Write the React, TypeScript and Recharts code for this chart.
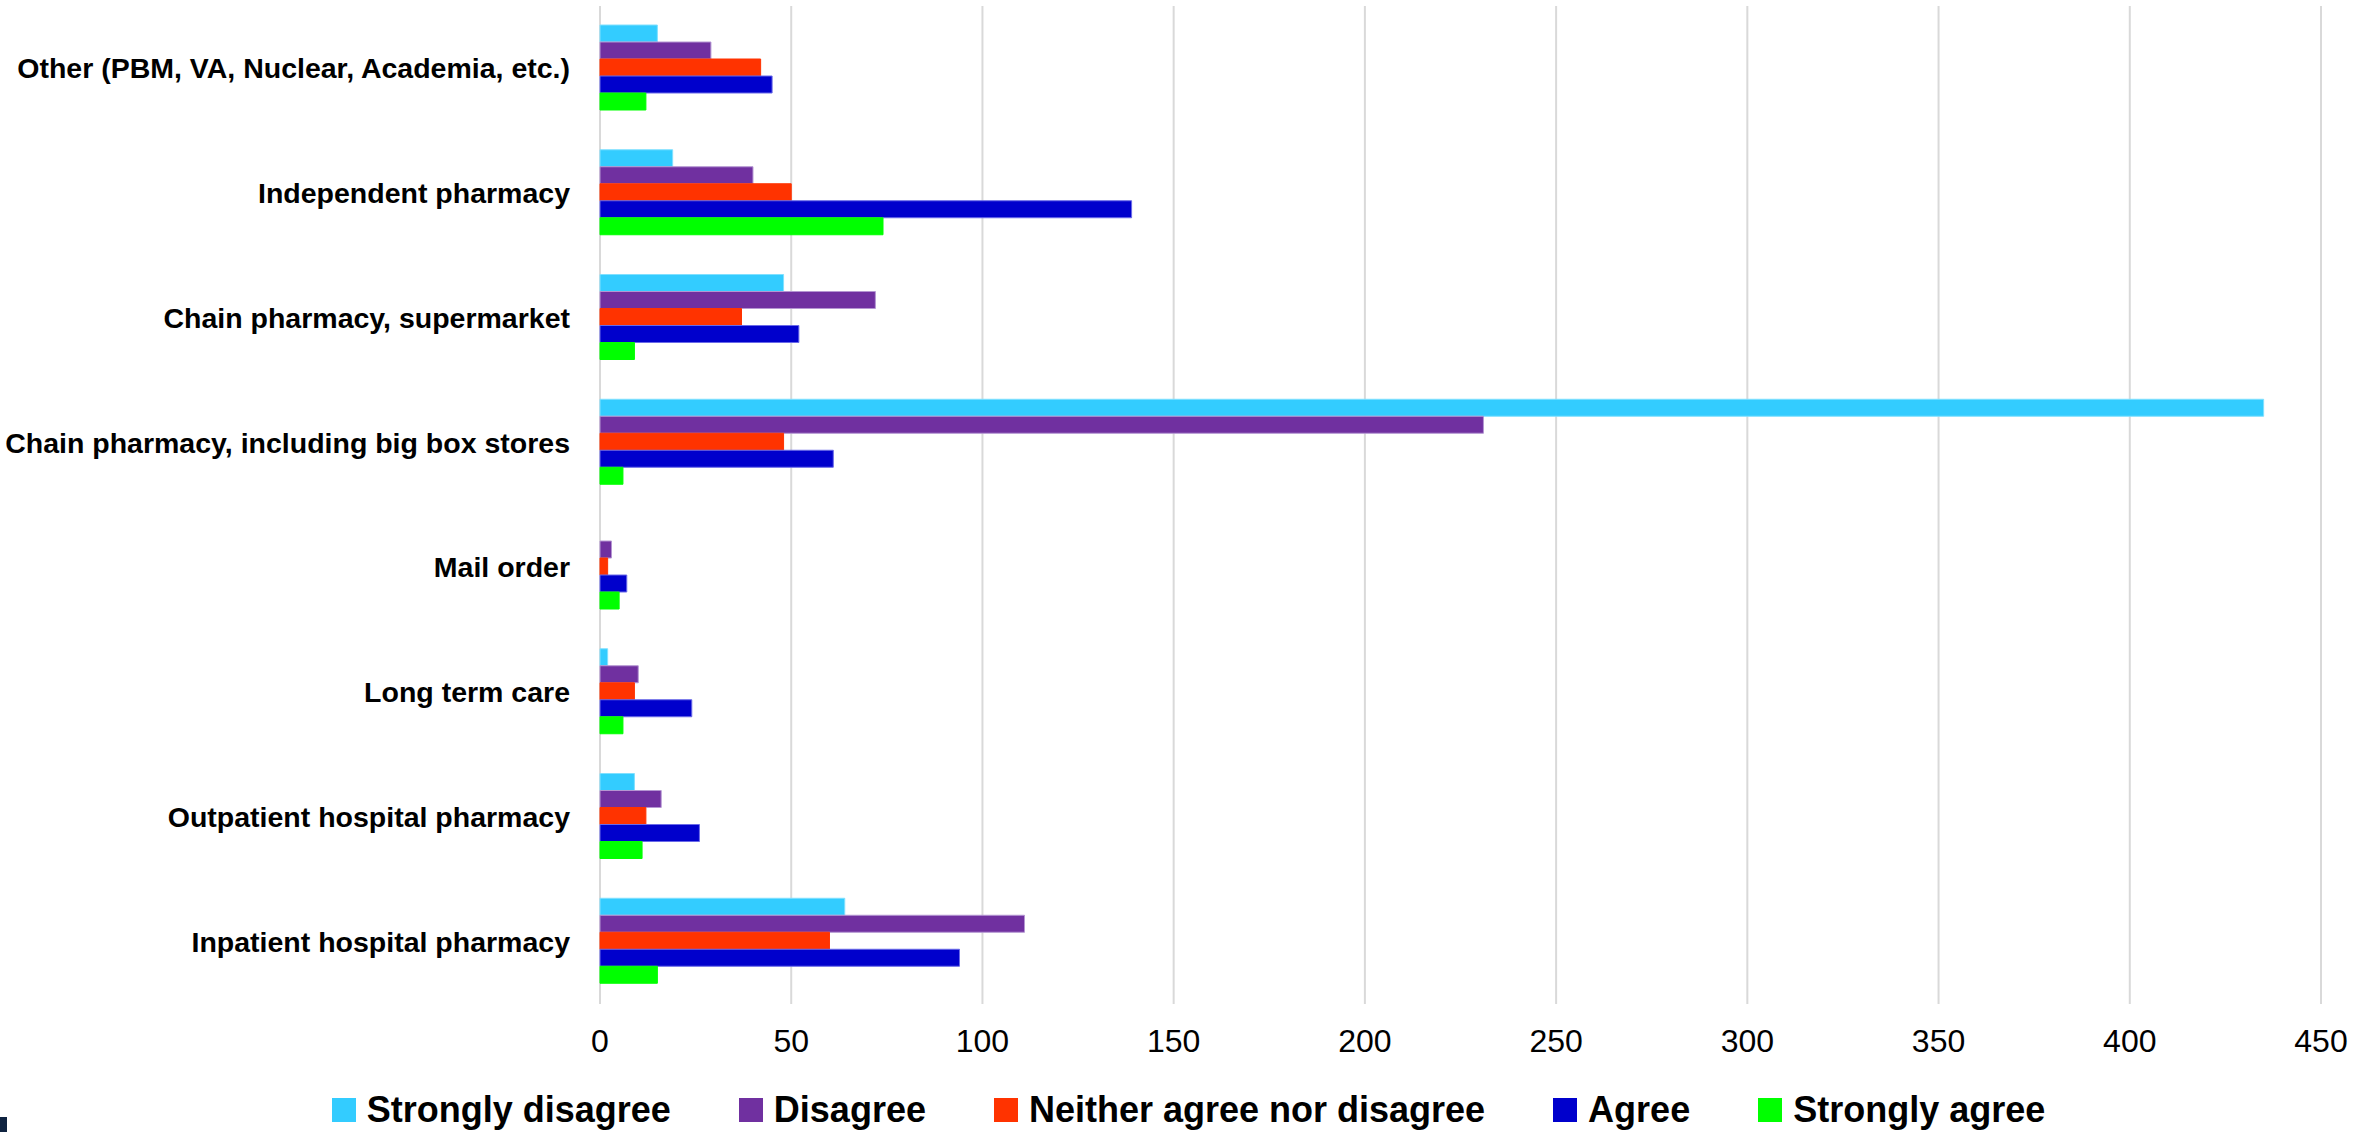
import React from 'react';
import { BarChart, Bar, XAxis, YAxis, CartesianGrid, Legend } from 'recharts';

const categories = [
  'Other (PBM, VA, Nuclear, Academia, etc.)',
  'Independent pharmacy',
  'Chain pharmacy, supermarket',
  'Chain pharmacy, including big box stores',
  'Mail order',
  'Long term care',
  'Outpatient hospital pharmacy',
  'Inpatient hospital pharmacy',
];

const stronglyDisagree = [15, 19, 48, 435, 0, 2, 9, 64];
const disagree = [29, 40, 72, 231, 3, 10, 16, 111];
const neither = [42, 50, 37, 48, 2, 9, 12, 60];
const agree = [45, 139, 52, 61, 7, 24, 26, 94];
const stronglyAgree = [12, 74, 9, 6, 5, 6, 11, 15];

const xTicks = [0, 50, 100, 150, 200, 250, 300, 350, 400, 450];

const series = [
  { key: 'sd', name: 'Strongly disagree', color: '#33CCFF', stroke: '#80E0FF' },
  { key: 'd', name: 'Disagree', color: '#7030A0', stroke: '#B496D2' },
  { key: 'n', name: 'Neither agree nor disagree', color: '#FF3300', stroke: '#FF3300' },
  { key: 'a', name: 'Agree', color: '#0000CC', stroke: '#6A6AE8' },
  { key: 'sa', name: 'Strongly agree', color: '#00FF00', stroke: '#00FF00' },
];

const data = categories.map((name, i) => ({
  name,
  sd: stronglyDisagree[i],
  d: disagree[i],
  n: neither[i],
  a: agree[i],
  sa: stronglyAgree[i],
}));

const renderLegend = () => (
  <div
    style={{
      height: 44,
      display: 'flex',
      justifyContent: 'center',
      alignItems: 'center',
      paddingLeft: 0,
      boxSizing: 'border-box',
    }}
  >
    {series.map((s, i) => (
      <div
        key={s.key}
        style={{
          display: 'flex',
          alignItems: 'center',
          marginRight: i < series.length - 1 ? 68 : 0,
        }}
      >
        <div style={{ width: 24, height: 24, background: s.color, marginRight: 11 }} />
        <span
          style={{
            fontFamily: "'Liberation Sans', Arial, sans-serif",
            fontWeight: 'bold',
            fontSize: 36,
            color: '#000',
            lineHeight: '44px',
            whiteSpace: 'nowrap',
          }}
        >
          {s.name}
        </span>
      </div>
    ))}
  </div>
);

export default function App() {
  return (
    <div style={{ position: 'absolute', left: 0, top: 0, width: 2377, height: 1132, background: '#fff' }}>
      <BarChart
        width={2377}
        height={1132}
        data={data}
        layout="vertical"
        margin={{ top: 6, right: 56, bottom: 0, left: 0 }}
        barCategoryGap={19}
        barGap={0}
      >
        <CartesianGrid horizontal={false} vertical={true} stroke="#D9D9D9" strokeWidth={2} />
        <XAxis
          type="number"
          domain={[0, 450]}
          ticks={xTicks}
          interval={0}
          axisLine={false}
          tickLine={false}
          tickSize={0}
          tickMargin={25}
          height={84}
          tick={{ fontFamily: "'Liberation Sans', Arial, sans-serif", fontSize: 32, fill: '#000' }}
        />
        <YAxis
          type="category"
          dataKey="name"
          width={600}
          interval={0}
          axisLine={false}
          tickLine={false}
          tickSize={0}
          tickMargin={30}
          tick={{
            fontFamily: "'Liberation Sans', Arial, sans-serif",
            fontWeight: 'bold',
            fontSize: 28.5,
            fill: '#000',
          }}
        />
        <Legend
          verticalAlign="bottom"
          content={renderLegend}
          wrapperStyle={{ left: 0, width: 2377, bottom: 0 }}
        />
        {series.map((s) => (
          <Bar
            key={s.key}
            dataKey={s.key}
            name={s.name}
            fill={s.color}
            stroke={s.stroke}
            strokeWidth={1}
            isAnimationActive={false}
          />
        ))}
      </BarChart>
      <div style={{ position: 'absolute', left: 0, top: 1117, width: 7, height: 15, background: '#0F2340' }} />
    </div>
  );
}
